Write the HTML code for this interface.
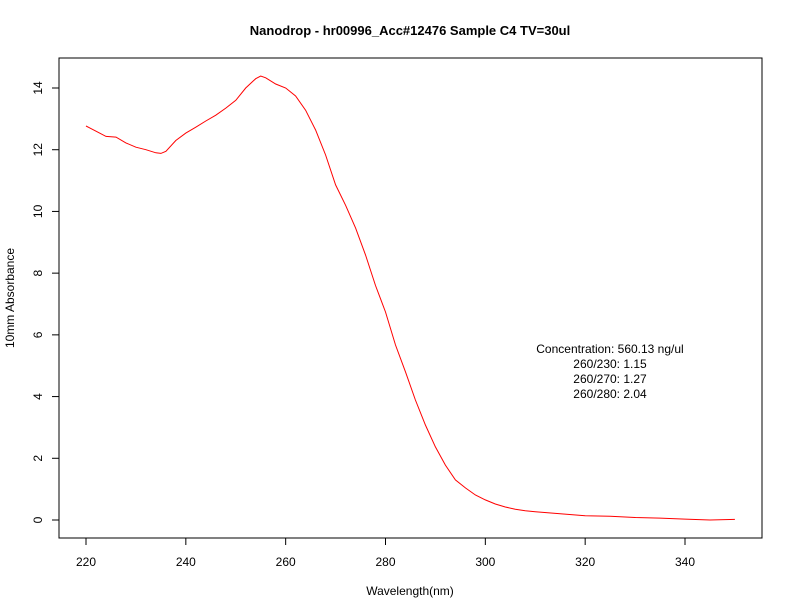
<!DOCTYPE html>
<html><head><meta charset="utf-8"><style>
html,body{margin:0;padding:0;background:#fff;}
svg{display:block;font-family:"Liberation Sans",Arial,sans-serif;}
</style></head><body>
<svg id="chart" width="792" height="612" viewBox="0 0 792 612">
<rect width="792" height="612" fill="#fff"/>
<text x="410" y="35" text-anchor="middle" font-size="13" font-weight="bold">Nanodrop - hr00996_Acc#12476 Sample C4  TV=30ul</text>
<rect x="59" y="58" width="703" height="480" fill="none" stroke="#000" stroke-width="1"/>
<g id="xaxis"></g>
<g id="yaxis"></g>
<text x="410" y="595" text-anchor="middle" font-size="12">Wavelength(nm)</text>
<text transform="translate(14,298) rotate(-90)" text-anchor="middle" font-size="12">10mm Absorbance</text>
<path id="line" fill="none" stroke="#ff0000" stroke-width="1"/>
<g font-size="12" text-anchor="middle">
<text x="610" y="353">Concentration: 560.13 ng/ul</text>
<text x="610" y="368">260/230: 1.15</text>
<text x="610" y="383">260/270: 1.27</text>
<text x="610" y="398">260/280: 2.04</text>
</g>
</svg>
<script>
const wavelengths=[220,222,224,226,228,230,232,234,235,236,238,240,242,244,246,248,250,252,254,255,256,258,260,262,264,266,268,270,272,274,276,278,280,282,284,286,288,290,292,294,296,298,300,302,304,306,308,310,315,320,325,330,335,340,345,350];
const absorbance=[12.77,12.6,12.43,12.41,12.22,12.08,12.0,11.9,11.88,11.95,12.3,12.54,12.73,12.93,13.12,13.35,13.6,14.0,14.3,14.39,14.33,14.13,14.0,13.74,13.28,12.64,11.83,10.86,10.2,9.46,8.59,7.6,6.74,5.67,4.8,3.89,3.08,2.37,1.78,1.3,1.04,0.81,0.65,0.52,0.42,0.35,0.3,0.27,0.2,0.14,0.12,0.08,0.06,0.03,0.0,0.02];
const xTicks=[220,240,260,280,300,320,340];
const yTicks=[0,2,4,6,8,10,12,14];
const NS="http://www.w3.org/2000/svg";
function sx(w){return 86+(w-220)*(685-86)/120;}
function sy(v){return 520-v*(520-88)/14;}
const xa=document.getElementById('xaxis'),ya=document.getElementById('yaxis');
xTicks.forEach(t=>{
 const l=document.createElementNS(NS,'line');
 l.setAttribute('x1',sx(t));l.setAttribute('x2',sx(t));l.setAttribute('y1',538);l.setAttribute('y2',545);l.setAttribute('stroke','#000');
 
 
 xa.appendChild(l);
 const tx=document.createElementNS(NS,'text');
 tx.setAttribute('x',sx(t));tx.setAttribute('y',566);tx.setAttribute('text-anchor','middle');tx.setAttribute('font-size','12');tx.textContent=t;
 
 
 xa.appendChild(tx);
});
yTicks.forEach(t=>{
 const l=document.createElementNS(NS,'line');
 l.setAttribute('x1',52);l.setAttribute('x2',59);l.setAttribute('y1',sy(t));l.setAttribute('y2',sy(t));l.setAttribute('stroke','#000');
 
 
 ya.appendChild(l);
 const tx=document.createElementNS(NS,'text');
 tx.setAttribute('transform','translate(42,'+sy(t)+') rotate(-90)');tx.setAttribute('text-anchor','middle');tx.setAttribute('font-size','12');tx.textContent=t;
 
 
 ya.appendChild(tx);
});
document.getElementById('line').setAttribute('d',wavelengths.map((w,i)=>(i?'L':'M')+sx(w).toFixed(1)+' '+sy(absorbance[i]).toFixed(1)).join(' '));
</script>
</body></html>
